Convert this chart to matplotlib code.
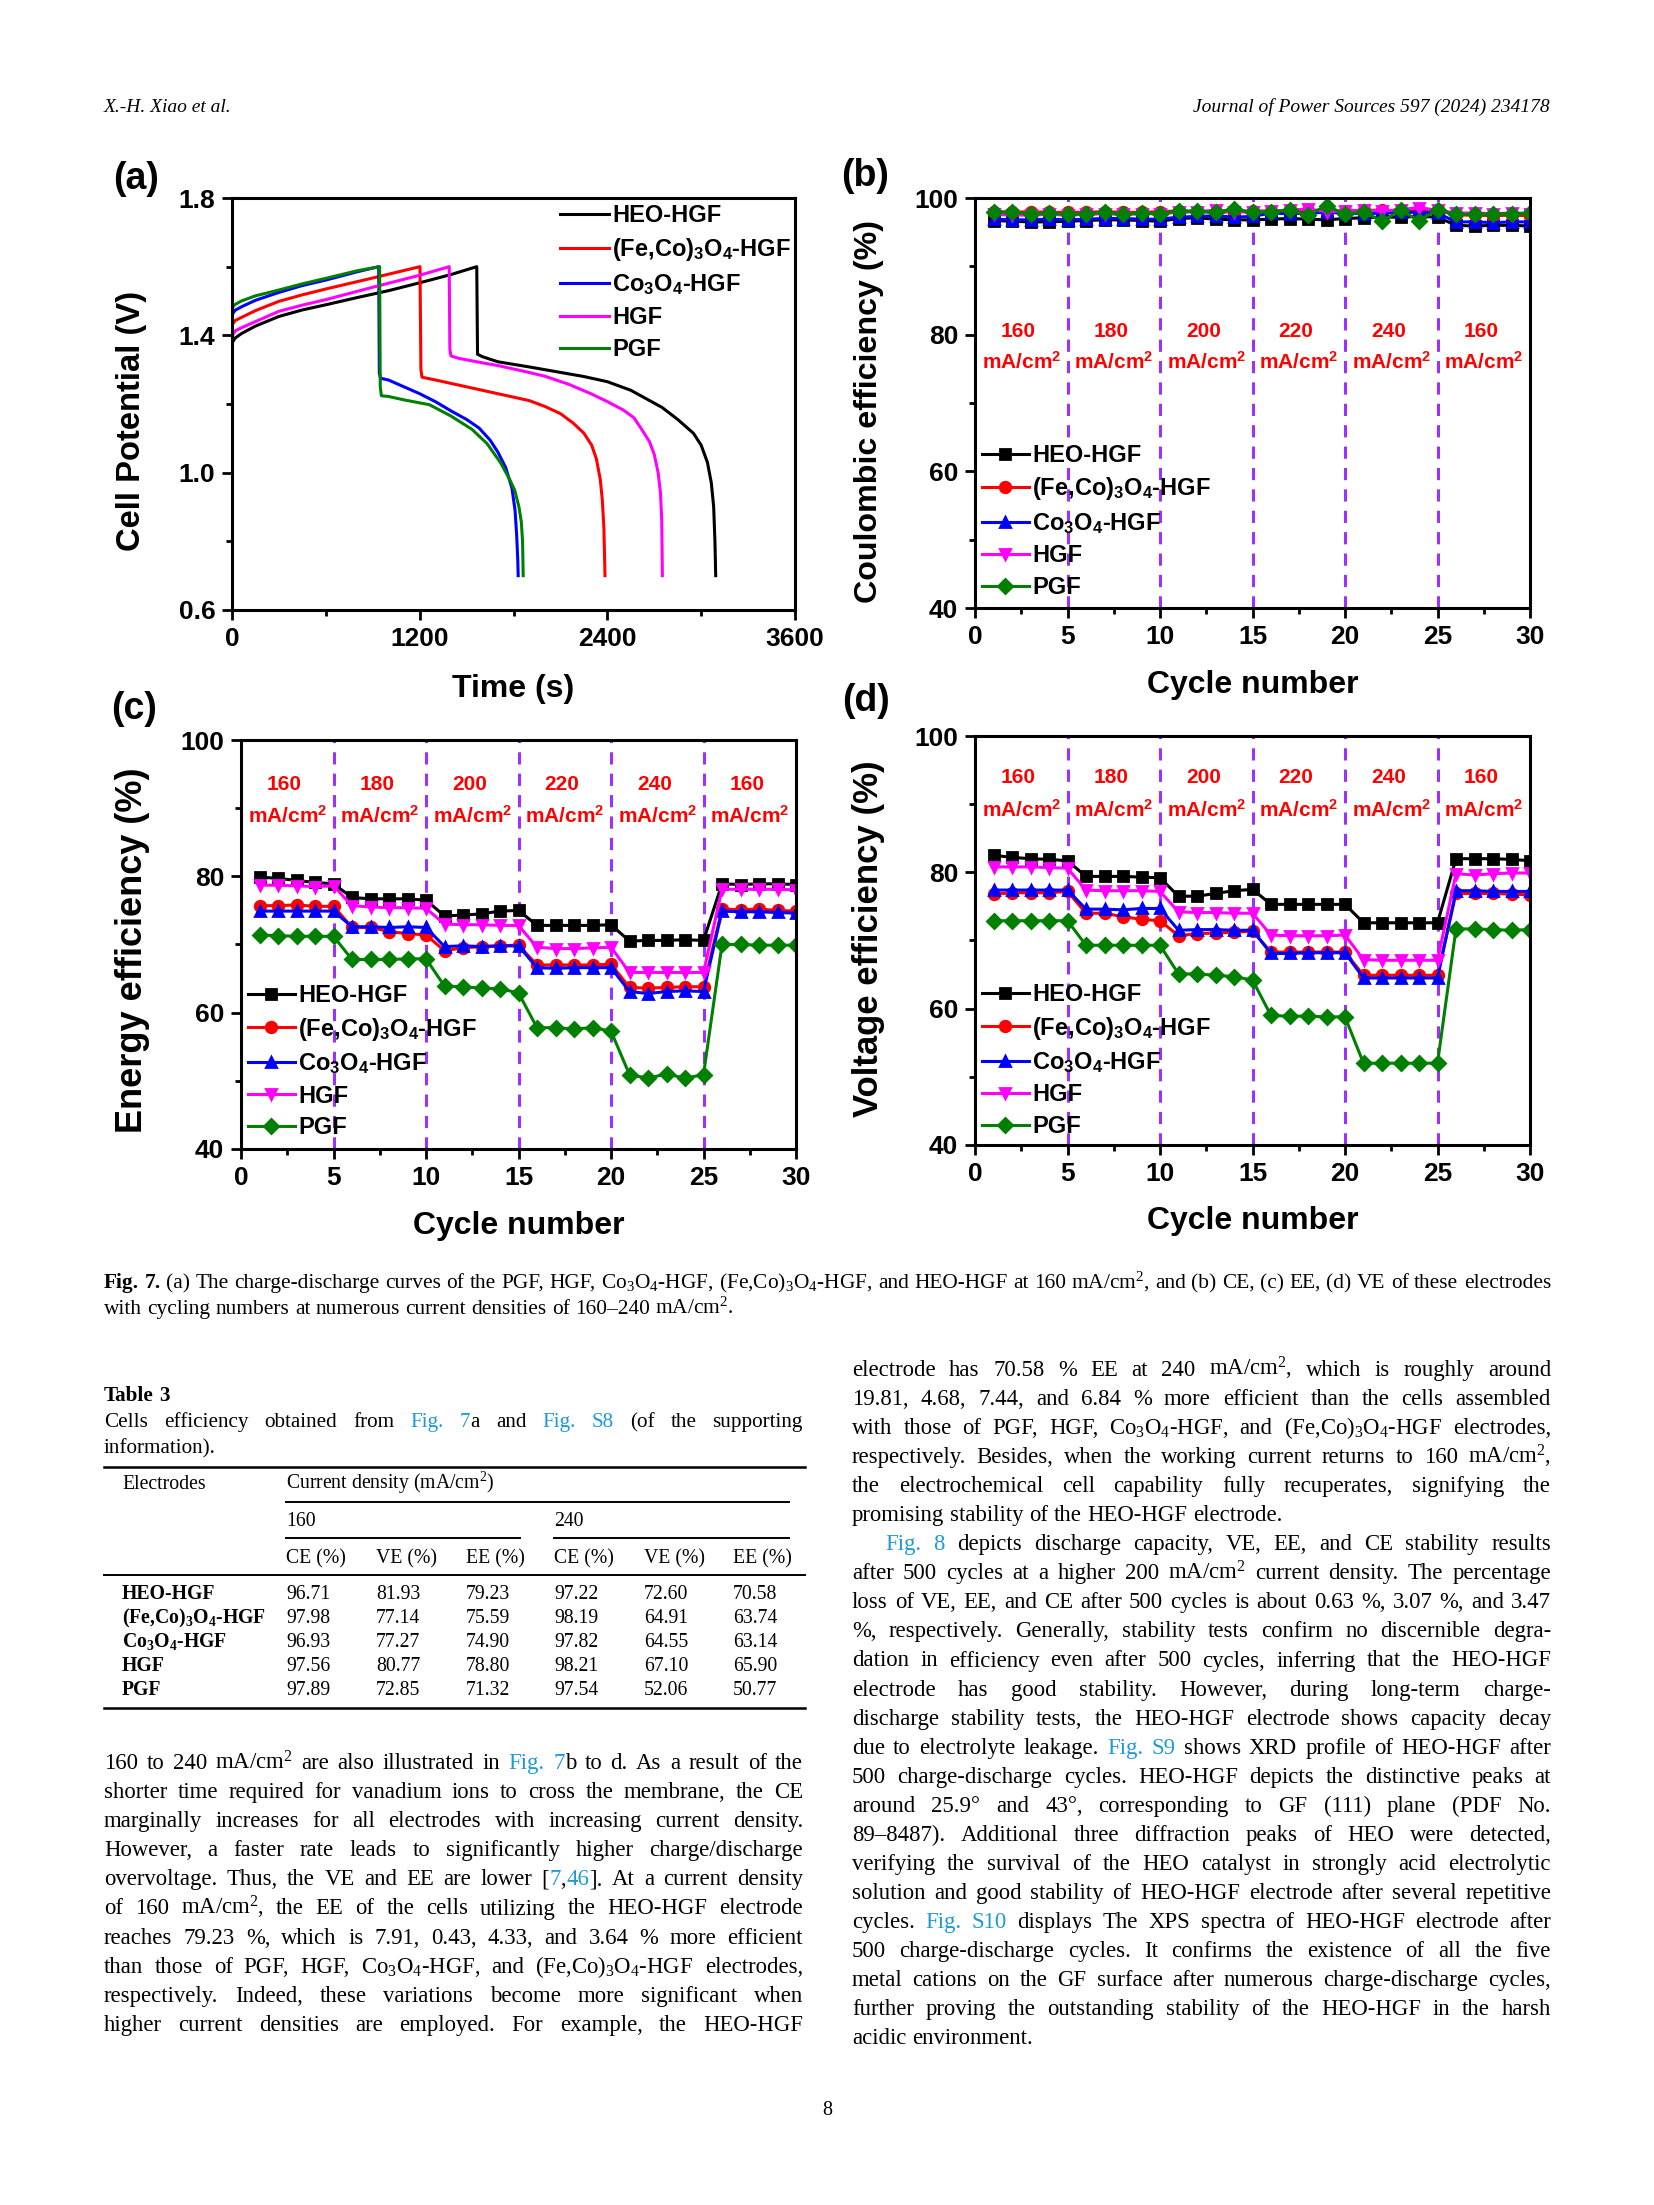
import matplotlib
matplotlib.use('Agg')
import matplotlib.pyplot as plt
from matplotlib.ticker import MultipleLocator
from matplotlib.lines import Line2D

W, H = 1654, 2205
SANS = 'Liberation Sans'
SERIF = 'Liberation Serif'
LINK = '#1d9ad6'

plt.rcParams['font.family'] = [SANS, 'DejaVu Sans']
plt.rcParams['font.weight'] = 'bold'
plt.rcParams['axes.labelweight'] = 'bold'
plt.rcParams['mathtext.default'] = 'regular'

# ---- data ----
names = ['HEO-HGF', '(Fe,Co)$_3$O$_4$-HGF', 'Co$_3$O$_4$-HGF', 'HGF', 'PGF']
colors = ['black', '#ff0000', '#0000ff', '#ff00ff', '#008000']
markers = ['s', 'o', '^', 'v', 'D']

# (a) charge-discharge curves, time (s) / cell potential (V)
heo_t = [0, 3, 20, 60, 150, 300, 450, 600, 800, 1000, 1200, 1400, 1565, 1570, 1600, 1700, 1900, 2100,
         2250, 2400, 2550, 2650, 2750, 2850, 2950, 3000, 3040, 3065, 3080, 3088, 3093]
heo_v = [1.30, 1.38, 1.392, 1.405, 1.427, 1.455, 1.474, 1.489, 1.51, 1.53, 1.553, 1.577, 1.60, 1.345,
         1.338, 1.323, 1.308, 1.292, 1.28, 1.265, 1.24, 1.215, 1.19, 1.155, 1.115, 1.08, 1.03, 0.97,
         0.90, 0.80, 0.70]
feco_t = [0, 20, 60, 150, 300, 450, 600, 900, 1202, 1208, 1215, 1300, 1450, 1600, 1750, 1900, 2000,
          2100, 2180, 2250, 2300, 2330, 2355, 2368, 2378, 2385]
feco_v = [1.43, 1.443, 1.452, 1.472, 1.499, 1.518, 1.535, 1.567, 1.60, 1.30, 1.278, 1.27, 1.255, 1.24,
          1.225, 1.21, 1.193, 1.172, 1.145, 1.115, 1.08, 1.04, 0.98, 0.92, 0.84, 0.70]
co_t = [0, 20, 60, 150, 300, 450, 600, 800, 938, 942, 950, 1000, 1100, 1200, 1300, 1400, 1500, 1580,
        1650, 1700, 1750, 1790, 1810, 1820, 1827, 1830]
co_v = [1.46, 1.473, 1.483, 1.502, 1.525, 1.545, 1.561, 1.585, 1.60, 1.29, 1.275, 1.27, 1.25, 1.23,
        1.207, 1.18, 1.155, 1.13, 1.095, 1.06, 1.015, 0.955, 0.89, 0.82, 0.75, 0.70]
hgf_t = [0, 3, 20, 60, 150, 300, 450, 600, 900, 1200, 1389, 1393, 1400, 1450, 1600, 1700, 1850, 2000,
         2150, 2300, 2400, 2500, 2570, 2620, 2670, 2700, 2725, 2740, 2748, 2752]
hgf_v = [1.27, 1.40, 1.413, 1.422, 1.44, 1.47, 1.488, 1.504, 1.54, 1.575, 1.60, 1.36, 1.34, 1.333,
         1.32, 1.312, 1.297, 1.281, 1.258, 1.229, 1.207, 1.183, 1.16, 1.126, 1.09, 1.053, 1.00, 0.94,
         0.86, 0.70]
pgf_t = [0, 4, 20, 60, 150, 300, 450, 600, 800, 944, 948, 955, 1000, 1100, 1262, 1400, 1535, 1630,
         1716, 1770, 1807, 1835, 1850, 1858, 1862]
pgf_v = [1.30, 1.482, 1.49, 1.50, 1.515, 1.532, 1.55, 1.566, 1.588, 1.60, 1.25, 1.224, 1.222, 1.212,
         1.198, 1.165, 1.126, 1.085, 1.03, 0.985, 0.95, 0.90, 0.856, 0.80, 0.70]

cycles = list(range(1, 31))
rate_labels = ['160', '180', '200', '220', '240', '160']
rate_centers = [2.5, 7.5, 12.5, 17.5, 22.5, 27.5]
rate_bounds = [5, 10, 15, 20, 25]

ce_heo = [96.7, 96.6, 96.5, 96.5, 96.6, 96.7, 96.8, 96.8, 96.7, 96.6, 97.0, 97.1, 96.9, 96.8, 96.8,
          96.9, 97.0, 96.9, 96.8, 97.0, 97.1, 97.2, 97.2, 97.3, 97.2, 96.0, 95.9, 96.0, 96.0, 95.9]
ce_feco = [98.0, 97.9, 98.0, 97.9, 97.9, 97.9, 98.0, 97.9, 97.9, 98.0, 98.1, 98.0, 97.9, 98.0, 98.1,
           98.1, 98.2, 98.1, 98.0, 98.1, 98.2, 98.2, 98.1, 98.3, 98.2, 97.5, 97.5, 97.4, 97.5, 97.4]
ce_co = [96.9, 96.8, 96.8, 96.9, 96.8, 96.9, 97.0, 97.0, 96.9, 96.9, 97.2, 97.3, 97.4, 97.2, 97.3,
         97.8, 97.7, 97.8, 97.9, 97.8, 97.7, 97.8, 97.9, 97.9, 97.8, 96.5, 96.5, 96.4, 96.5, 96.5]
ce_hgf = [97.6, 97.5, 97.5, 97.6, 97.5, 97.6, 97.7, 97.6, 97.7, 97.7, 97.9, 98.0, 98.2, 98.0, 97.9,
          98.1, 98.2, 98.4, 98.0, 98.1, 98.2, 98.1, 98.3, 98.6, 98.2, 97.8, 97.8, 97.7, 97.8, 97.7]
ce_pgf = [98.0, 97.9, 97.7, 97.8, 97.6, 97.7, 97.9, 97.6, 97.8, 97.7, 98.1, 98.1, 97.9, 98.4, 97.9,
          98.0, 98.2, 97.5, 98.9, 97.6, 98.0, 96.6, 98.2, 96.7, 98.3, 97.6, 97.6, 97.7, 97.7, 97.8]

ee_heo = [79.9, 79.7, 79.4, 79.1, 78.9, 76.9, 76.7, 76.7, 76.7, 76.5, 74.2, 74.3, 74.5, 74.9, 75.0,
          72.8, 72.8, 72.8, 72.8, 72.9, 70.5, 70.6, 70.6, 70.7, 70.6, 78.9, 78.8, 78.9, 78.9, 78.8]
ee_feco = [75.7, 75.7, 75.8, 75.6, 75.6, 72.5, 72.5, 71.9, 71.6, 71.4, 69.1, 69.5, 69.7, 69.8, 69.9,
           67.0, 67.0, 67.0, 67.0, 67.1, 63.7, 63.6, 63.7, 63.8, 63.8, 75.2, 75.1, 75.2, 75.0, 74.9]
ee_co = [74.9, 74.9, 74.9, 74.9, 74.9, 72.6, 72.6, 72.5, 72.6, 72.5, 69.7, 69.8, 69.7, 69.8, 69.8,
         66.6, 66.5, 66.6, 66.6, 66.6, 63.1, 62.8, 63.1, 63.2, 63.1, 74.9, 74.8, 74.8, 74.7, 74.6]
ee_hgf = [78.7, 78.7, 78.6, 78.5, 78.6, 75.7, 75.5, 75.4, 75.4, 75.3, 73.0, 72.9, 72.9, 72.8, 72.8,
          69.6, 69.4, 69.4, 69.5, 69.6, 65.9, 65.9, 65.9, 65.9, 65.9, 78.1, 78.1, 78.1, 78.1, 78.0]
ee_pgf = [71.4, 71.3, 71.2, 71.2, 71.2, 67.8, 67.8, 67.8, 67.9, 67.9, 63.9, 63.8, 63.6, 63.5, 62.9,
          57.8, 57.8, 57.6, 57.8, 57.3, 50.9, 50.4, 51.0, 50.4, 50.9, 70.0, 70.0, 69.9, 69.9, 69.9]

ve_heo = [82.5, 82.2, 82.0, 81.9, 81.7, 79.4, 79.4, 79.4, 79.3, 79.2, 76.5, 76.5, 76.9, 77.3, 77.5,
          75.3, 75.3, 75.3, 75.3, 75.3, 72.6, 72.6, 72.6, 72.6, 72.6, 82.0, 82.0, 82.0, 81.9, 81.7]
ve_feco = [76.8, 77.0, 77.0, 77.0, 77.2, 74.0, 74.0, 73.5, 73.1, 72.9, 70.7, 71.0, 71.1, 71.2, 71.4,
           68.3, 68.3, 68.3, 68.3, 68.3, 64.9, 64.9, 64.9, 64.9, 64.9, 76.9, 76.9, 76.9, 76.8, 76.7]
ve_co = [77.4, 77.4, 77.4, 77.4, 77.4, 74.6, 74.6, 74.5, 74.7, 74.7, 71.5, 71.6, 71.6, 71.5, 71.5,
         68.1, 68.1, 68.2, 68.2, 68.2, 64.5, 64.5, 64.5, 64.5, 64.5, 77.3, 77.3, 77.2, 77.2, 77.2]
ve_hgf = [80.8, 80.8, 80.8, 80.7, 80.6, 77.4, 77.3, 77.3, 77.3, 77.2, 74.2, 74.1, 74.1, 74.0, 74.0,
          70.8, 70.7, 70.7, 70.7, 70.8, 67.2, 67.1, 67.1, 67.1, 67.1, 79.8, 79.6, 79.8, 79.9, 79.9]
ve_pgf = [72.9, 72.9, 72.9, 72.9, 72.9, 69.3, 69.3, 69.3, 69.3, 69.3, 65.1, 65.1, 64.9, 64.7, 64.2,
          59.0, 58.9, 58.9, 58.8, 58.8, 52.0, 52.0, 52.0, 52.0, 52.0, 71.7, 71.7, 71.6, 71.5, 71.6]

# Table 3
tab_electrodes = ['HEO-HGF', '(Fe,Co)$_3$O$_4$-HGF', 'Co$_3$O$_4$-HGF', 'HGF', 'PGF']
tab_ce160 = [96.71, 97.98, 96.93, 97.56, 97.89]
tab_ve160 = [81.93, 77.14, 77.27, 80.77, 72.85]
tab_ee160 = [79.23, 75.59, 74.90, 78.80, 71.32]
tab_ce240 = [97.22, 98.19, 97.82, 98.21, 97.54]
tab_ve240 = [72.60, 64.91, 64.55, 67.10, 52.06]
tab_ee240 = [70.58, 63.74, 63.14, 65.90, 50.77]

fig = plt.figure(figsize=(W / 200, H / 200), dpi=200)
fig.patch.set_facecolor('white')


def box(left, top, right, bottom):
    return [left / W, 1 - bottom / H, (right - left) / W, (bottom - top) / H]


def style(ax, xlab, ylab, ysize, ylx, yly, xly):
    for s in ax.spines.values():
        s.set_linewidth(1.1)
    ax.tick_params(which='both', direction='out', top=False, right=False, width=1.0)
    ax.tick_params(which='major', length=3.5, pad=2.5, labelsize=9.5)
    ax.tick_params(which='minor', length=2)
    ax.set_xlabel(xlab, fontsize=11.5)
    ax.set_ylabel(ylab, fontsize=ysize)
    ax.xaxis.set_label_coords(0.5, xly)
    ax.yaxis.set_label_coords(ylx, yly)
    ax.xaxis.label.set_va('center')
    ax.yaxis.label.set_va('center')


# ---- (a) ----
ax = fig.add_axes(box(232, 198, 795, 610))
curves = [(heo_t, heo_v), (feco_t, feco_v), (co_t, co_v), (hgf_t, hgf_v), (pgf_t, pgf_v)]
for (t, v), c, n in zip(curves, colors, names):
    ax.plot(t, v, color=c, lw=1.1, label=n)
ax.set_xlim(0, 3600)
ax.set_ylim(0.6, 1.8)
ax.set_xticks([0, 1200, 2400, 3600])
ax.set_yticks([0.6, 1.0, 1.4, 1.8])
ax.xaxis.set_minor_locator(MultipleLocator(600))
ax.yaxis.set_minor_locator(MultipleLocator(0.2))
style(ax, 'Time (s)', 'Cell Potential (V)', 11.8, -0.178, 0.46, -0.192)
ax.legend(loc='upper left', bbox_to_anchor=(0.583, 0.985), frameon=False, fontsize=8.5,
          handlelength=2.05, handletextpad=0.15, labelspacing=0.38, borderpad=0, borderaxespad=0)


def cycle_panel(rect, series, ylab, ysize, ylx, yly, xly, num_y, unit_y, leg_y):
    ax = fig.add_axes(rect)
    for b in rate_bounds:
        ax.axvline(b, color='#9b30ff', lw=1.1, ls=(0, (4, 3)), zorder=1)
    for vals, c, m, n in zip(series, colors, markers, names):
        ax.plot(cycles, vals, color=c, marker=m, ms=3.8, lw=1.1, label=n)
    for xc, lab in zip(rate_centers, rate_labels):
        ax.text(xc - 0.15, num_y, lab, color='#ff0000', ha='center', va='center', fontsize=7.5)
        ax.text(xc, unit_y, 'mA/cm$^2$', color='#ff0000', ha='center', va='center', fontsize=7.5)
    ax.set_xlim(0, 30)
    ax.set_ylim(40, 100)
    ax.set_xticks(range(0, 31, 5))
    ax.set_yticks([40, 60, 80, 100])
    ax.xaxis.set_minor_locator(MultipleLocator(2.5))
    ax.yaxis.set_minor_locator(MultipleLocator(10))
    style(ax, 'Cycle number', ylab, ysize, ylx, yly, xly)
    ax.legend(loc='upper left', bbox_to_anchor=(0.012, leg_y), frameon=False, fontsize=8.5,
              handlelength=2.0, handletextpad=0.15, labelspacing=0.36, borderpad=0,
              borderaxespad=0, numpoints=1)
    return ax


cycle_panel(box(975, 198, 1530, 608), [ce_heo, ce_feco, ce_co, ce_hgf, ce_pgf],
            'Coulombic efficiency (%)', 11.6, -0.191, 0.48, -0.188, 80.4, 76.0, 0.40)
cycle_panel(box(241, 740, 796, 1149), [ee_heo, ee_feco, ee_co, ee_hgf, ee_pgf],
            'Energy efficiency (%)', 13.0, -0.196, 0.487, -0.188, 93.5, 88.9, 0.403)
cycle_panel(box(975, 736, 1530, 1145), [ve_heo, ve_feco, ve_co, ve_hgf, ve_pgf],
            'Voltage efficiency (%)', 12.5, -0.191, 0.505, -0.186, 93.9, 89.2, 0.396)

for lab, x, y in [('(a)', 136, 179), ('(b)', 865, 176), ('(c)', 134, 709), ('(d)', 866, 701)]:
    fig.text(x / W, 1 - y / H, lab, fontsize=13.5, ha='center', va='center')

# ---- page text ----
renderer = fig.canvas.get_renderer()


def parse(line):
    words = [[]]
    state = {'buf': '', 'link': False, 'bold': False}

    def push():
        if state['buf']:
            words[-1].append((state['buf'], state['link'], state['bold']))
            state['buf'] = ''
    for ch in line:
        if ch in '«»§ ':
            push()
            if ch == '«':
                state['link'] = True
            elif ch == '»':
                state['link'] = False
            elif ch == '§':
                state['bold'] = not state['bold']
            else:
                words.append([])
        else:
            state['buf'] += ch
    push()
    return [w for w in words if w]


def put_line(x0, x1, y, line, size, justify=True, bold=False):
    words = parse(line)
    objs = []
    for w in words:
        parts = []
        for txt, link, b in w:
            t = fig.text(0, 0, txt, fontsize=size, family=SERIF,
                         weight='bold' if (b or bold) else 'normal',
                         color=LINK if link else 'black', ha='left', va='baseline')
            parts.append(t)
        objs.append(parts)

    def widths():
        return [[t.get_window_extent(renderer).width for t in p] for p in objs]
    ws = widths()
    total = sum(sum(w) for w in ws)
    space = 0.25 * size * 200 / 72
    n = len(objs)
    avail = x1 - x0
    if total + (n - 1) * 0.55 * space > avail:
        f = (avail - (n - 1) * 0.55 * space) / total
        for p in objs:
            for t in p:
                t.set_fontsize(size * f)
        ws = widths()
        total = sum(sum(w) for w in ws)
        space *= f
    gap = (avail - total) / (n - 1) if (justify and n > 1) else space
    x = x0
    for p, wl in zip(objs, ws):
        for t, w in zip(p, wl):
            t.set_position((x / W, 1 - y / H))
            x += w
        x += gap


# header
fig.text(104 / W, 1 - 112 / H, 'X.-H. Xiao et al.', family=SERIF, fontstyle='italic',
         weight='normal', fontsize=7, va='baseline')
fig.text(1550 / W, 1 - 112 / H, 'Journal of Power Sources 597 (2024) 234178', family=SERIF,
         fontstyle='italic', weight='normal', fontsize=7, va='baseline', ha='right')

# caption
put_line(104, 1551, 1288, '§Fig.§ §7.§ (a) The charge-discharge curves of the PGF, HGF, Co$_3$O$_4$-HGF, '
         '(Fe,Co)$_3$O$_4$-HGF, and HEO-HGF at 160 mA/cm$^2$, and (b) CE, (c) EE, (d) VE of these electrodes', 7.7)
put_line(104, 1551, 1314, 'with cycling numbers at numerous current densities of 160–240 mA/cm$^2$.', 7.7,
         justify=False)

# table 3
put_line(104, 803, 1401, '§Table§ §3§', 7.6, justify=False)
put_line(104, 803, 1427, 'Cells efficiency obtained from «Fig. 7»a and «Fig. S8» (of the supporting', 7.6)
put_line(104, 803, 1453, 'information).', 7.6, justify=False)


def hline(x0, x1, y, lw=0.9):
    fig.add_artist(Line2D([x0 / W, x1 / W], [1 - y / H, 1 - y / H], color='black', lw=lw,
                          transform=fig.transFigure))


hline(104, 805, 1467)
hline(286, 789, 1502, 0.7)
hline(286, 520, 1538, 0.7)
hline(554, 789, 1538, 0.7)
hline(104, 805, 1575, 0.7)
hline(104, 805, 1708)

tkw = dict(family=SERIF, weight='normal', fontsize=7.1, va='baseline')
fig.text(122 / W, 1 - 1489 / H, 'Electrodes', **tkw)
fig.text(286 / W, 1 - 1489 / H, 'Current density (mA/cm$^2$)', **tkw)
fig.text(286 / W, 1 - 1526 / H, '160', **tkw)
fig.text(554 / W, 1 - 1526 / H, '240', **tkw)
col_x = [286, 376, 466, 554, 644, 733]
for cx, h in zip(col_x, ['CE (%)', 'VE (%)', 'EE (%)'] * 2):
    fig.text(cx / W, 1 - 1563 / H, h, **tkw)
row_y = [1599, 1623, 1647, 1671, 1695]
cols = [tab_ce160, tab_ve160, tab_ee160, tab_ce240, tab_ve240, tab_ee240]
for i, ry in enumerate(row_y):
    fig.text(122 / W, 1 - ry / H, tab_electrodes[i], family=SERIF, weight='bold', fontsize=7.1,
             va='baseline')
    for cx, col in zip(col_x, cols):
        fig.text(cx / W, 1 - ry / H, f'{col[i]:.2f}', **tkw)

left_lines = [
    '160 to 240 mA/cm$^2$ are also illustrated in «Fig. 7»b to d. As a result of the',
    'shorter time required for vanadium ions to cross the membrane, the CE',
    'marginally increases for all electrodes with increasing current density.',
    'However, a faster rate leads to significantly higher charge/discharge',
    'overvoltage. Thus, the VE and EE are lower [«7»,«46»]. At a current density',
    'of 160 mA/cm$^2$, the EE of the cells utilizing the HEO-HGF electrode',
    'reaches 79.23 %, which is 7.91, 0.43, 4.33, and 3.64 % more efficient',
    'than those of PGF, HGF, Co$_3$O$_4$-HGF, and (Fe,Co)$_3$O$_4$-HGF electrodes,',
    'respectively. Indeed, these variations become more significant when',
    'higher current densities are employed. For example, the HEO-HGF',
]
for i, ln in enumerate(left_lines):
    put_line(104, 803, 1769 + i * 29.1, ln, 8.2)

right_lines = [
    'electrode has 70.58 % EE at 240 mA/cm$^2$, which is roughly around',
    '19.81, 4.68, 7.44, and 6.84 % more efficient than the cells assembled',
    'with those of PGF, HGF, Co$_3$O$_4$-HGF, and (Fe,Co)$_3$O$_4$-HGF electrodes,',
    'respectively. Besides, when the working current returns to 160 mA/cm$^2$,',
    'the electrochemical cell capability fully recuperates, signifying the',
    'promising stability of the HEO-HGF electrode.',
    '«Fig. 8» depicts discharge capacity, VE, EE, and CE stability results',
    'after 500 cycles at a higher 200 mA/cm$^2$ current density. The percentage',
    'loss of VE, EE, and CE after 500 cycles is about 0.63 %, 3.07 %, and 3.47',
    '%, respectively. Generally, stability tests confirm no discernible degra-',
    'dation in efficiency even after 500 cycles, inferring that the HEO-HGF',
    'electrode has good stability. However, during long-term charge-',
    'discharge stability tests, the HEO-HGF electrode shows capacity decay',
    'due to electrolyte leakage. «Fig. S9» shows XRD profile of HEO-HGF after',
    '500 charge-discharge cycles. HEO-HGF depicts the distinctive peaks at',
    'around 25.9° and 43°, corresponding to GF (111) plane (PDF No.',
    '89–8487). Additional three diffraction peaks of HEO were detected,',
    'verifying the survival of the HEO catalyst in strongly acid electrolytic',
    'solution and good stability of HEO-HGF electrode after several repetitive',
    'cycles. «Fig. S10» displays The XPS spectra of HEO-HGF electrode after',
    '500 charge-discharge cycles. It confirms the existence of all the five',
    'metal cations on the GF surface after numerous charge-discharge cycles,',
    'further proving the outstanding stability of the HEO-HGF in the harsh',
    'acidic environment.',
]
for i, ln in enumerate(right_lines):
    x0 = 885 if i == 6 else 852
    put_line(x0, 1551, 1376 + i * 29.05, ln, 8.2, justify=i not in (5, 23))

fig.text(827 / W, 1 - 2115 / H, '8', family=SERIF, weight='normal', fontsize=7.2, ha='center',
         va='baseline')

fig.savefig('out.png', dpi=200, facecolor='white')
